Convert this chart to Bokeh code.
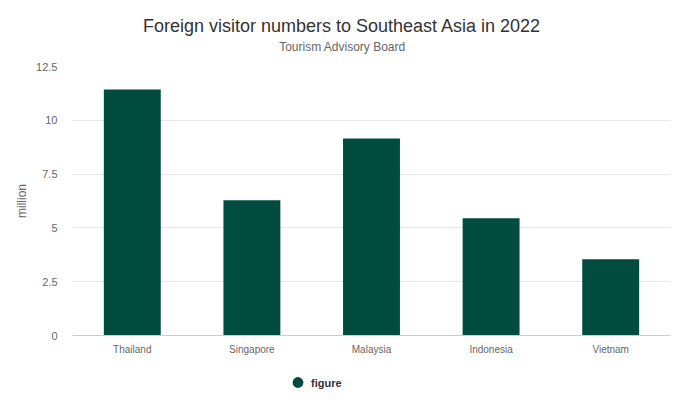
from bokeh.plotting import figure
from bokeh.layouts import column
from bokeh.models import Label, Legend, LegendItem, FixedTicker, ColumnDataSource, Range1d
from bokeh.embed import file_html
from bokeh.resources import INLINE

countries = ["Thailand", "Singapore", "Malaysia", "Indonesia", "Vietnam"]
visitors = [11.43, 6.28, 9.16, 5.45, 3.54]
y_ticks = [0, 2.5, 5, 7.5, 10, 12.5]
y_tick_labels = {0: "0", 2.5: "2.5", 5: "5", 7.5: "7.5", 10: "10", 12.5: "12.5"}
series_name = "figure"
title_text = "Foreign visitor numbers to Southeast Asia in 2022"
subtitle_text = "Tourism Advisory Board"
y_label = "million"

FONT = "Liberation Sans"
BAR = "#004d40"
W = 683
LEFT, RIGHT = 72, 13   # plot-area borders (frames of the column are aligned to these)

# ---- title strip (data units == page pixels, y pointing down) ----
ft = figure(width=W, height=56, x_range=Range1d(LEFT, W - RIGHT), y_range=Range1d(56, 0),
            output_backend="svg", toolbar_location=None, x_axis_type=None, y_axis_type=None,
            min_border=0)
ft.outline_line_color = None
ft.grid.visible = False
ft.add_layout(Label(x=341.5, y=25, text=title_text, text_align="center",
                    text_baseline="alphabetic", text_font=FONT, text_font_size="18px",
                    text_color="#333333"))
ft.add_layout(Label(x=342, y=46.5, text=subtitle_text, text_align="center",
                    text_baseline="alphabetic", text_font=FONT, text_font_size="12px",
                    text_color="#666666"))

# ---- main chart ----
p = figure(x_range=countries, y_range=Range1d(0, 12.5), width=W, height=304,
           output_backend="svg", toolbar_location=None, title=None,
           min_border_left=LEFT, min_border_right=RIGHT, min_border_top=10, min_border_bottom=25)
p.outline_line_color = None

src = ColumnDataSource(dict(x=countries, top=visitors))
p.vbar(x="x", top="top", width=0.476, source=src, color=BAR, line_color=None)

p.yaxis.ticker = FixedTicker(ticks=y_ticks)
p.yaxis.major_label_overrides = y_tick_labels
p.yaxis.axis_label = y_label
p.yaxis.axis_label_text_font = FONT
p.yaxis.axis_label_text_font_size = "12px"
p.yaxis.axis_label_text_font_style = "normal"
p.yaxis.axis_label_text_color = "#666666"
p.yaxis.axis_line_color = None
p.yaxis.major_label_standoff = 15
p.yaxis.axis_label_standoff = 4
p.yaxis.major_label_text_font_size = "11px"

p.xaxis.axis_line_color = "#cccccc"
p.xaxis.major_label_standoff = 8
p.xaxis.major_label_text_font_size = "10px"

for ax in (p.xaxis, p.yaxis):
    ax.major_tick_line_color = None
    ax.minor_tick_line_color = None
    ax.major_tick_out = 0
    ax.major_tick_in = 0
    ax.minor_tick_out = 0
    ax.major_label_text_font = FONT
    ax.major_label_text_color = "#666666"

p.xgrid.grid_line_color = None
p.ygrid.grid_line_color = "#e6e6e6"
p.ygrid.ticker = FixedTicker(ticks=y_ticks)

# ---- legend strip ----
fl = figure(width=W, height=44, x_range=Range1d(0, 1), y_range=Range1d(0, 1),
            output_backend="svg", toolbar_location=None, x_axis_type=None, y_axis_type=None,
            min_border=0)
fl.outline_line_color = None
fl.grid.visible = False
dummy = fl.scatter(x=[0.5], y=[float("nan")], marker="circle", size=11,
                   fill_color=BAR, line_color=None)
legend = Legend(items=[LegendItem(label=series_name, renderers=[dummy])],
                orientation="horizontal", location="left", margin=212,
                label_text_font=FONT, label_text_font_size="11px",
                label_text_font_style="bold", label_text_color="#333333",
                border_line_color=None, background_fill_alpha=0,
                glyph_width=27, glyph_height=27, label_standoff=0, padding=0, spacing=0)
fl.add_layout(legend, "center")

layout = column(ft, p, fl, spacing=0)
open("out.html", "w").write(file_html(layout, INLINE))
